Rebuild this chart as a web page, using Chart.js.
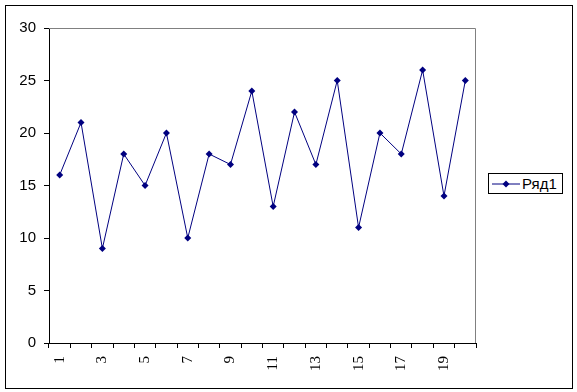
<!DOCTYPE html>
<html lang="ru">
<head>
<meta charset="UTF-8">
<title>Ряд1</title>
<script src="https://cdn.jsdelivr.net/npm/chart.js"></script>
<style>
  body { margin: 0; background: #fff; }
  #wrap { position: relative; width: 577px; height: 392px; }
  #legend {
    position: absolute; left: 488px; top: 173px; width: 73px; height: 19px;
    border: 1px solid #000; background: #fff;
    font: 15px "Liberation Sans", Arial, sans-serif; color: #000;
    display: flex; align-items: center;
  }
  #legend svg { margin-left: 3px; margin-right: 2px; }
</style>
</head>
<body>
<div id="wrap">
  <canvas id="chart" width="577" height="392"></canvas>
  <div id="legend">
    <svg width="28" height="10"><line x1="0" y1="5" x2="28" y2="5" stroke="#000080" stroke-width="1"/><polygon points="14,1.5 17.5,5 14,8.5 10.5,5" fill="#000080"/></svg>
    <span id="legend-label"></span>
  </div>
</div>
<script>
const seriesName = 'Ряд1';
const categories = ['1','2','3','4','5','6','7','8','9','10','11','12','13','14','15','16','17','18','19','20'];
const values = [16, 21, 9, 18, 15, 20, 10, 18, 17, 24, 13, 22, 17, 25, 11, 20, 18, 26, 14, 25];

document.getElementById('legend-label').textContent = seriesName;

// рамка всей диаграммы и области построения
const frames = {
  id: 'frames',
  afterDraw(chart) {
    const ctx = chart.ctx;
    const a = chart.chartArea;
    ctx.save();
    ctx.strokeStyle = '#000';
    ctx.lineWidth = 1;
    ctx.strokeRect(5.5, 5.5, 567, 383);
    ctx.strokeStyle = '#808080';
    ctx.beginPath();
    ctx.moveTo(a.left, a.top + 0.5);
    ctx.lineTo(a.right - 0.5, a.top + 0.5);
    ctx.lineTo(a.right - 0.5, a.bottom);
    ctx.stroke();
    ctx.restore();
  }
};

new Chart(document.getElementById('chart'), {
  type: 'line',
  data: {
    labels: categories,
    datasets: [{
      label: seriesName,
      data: values,
      borderColor: '#000080',
      backgroundColor: '#000080',
      borderWidth: 1,
      pointStyle: 'rectRot',
      pointRadius: 3.5,
      pointBorderWidth: 0,
      tension: 0
    }]
  },
  options: {
    responsive: false,
    animation: false,
    devicePixelRatio: 1,
    layout: { padding: { left: 0, top: 28, right: 101, bottom: 0 } },
    plugins: { legend: { display: false }, tooltip: { enabled: false } },
    scales: {
      x: {
        offset: true,
        afterFit(s) { s.height = 49; },
        grid: { offset: true, drawOnChartArea: false, tickLength: 5, color: '#000' },
        border: { color: '#000' },
        ticks: {
          autoSkip: false,
          maxRotation: 90, minRotation: 90,
          padding: 8,
          color: '#000',
          font: { family: '"Liberation Serif", "Times New Roman", serif', size: 15 },
          callback: (v, i) => i % 2 === 0 ? categories[i] : ''
        }
      },
      y: {
        min: 0, max: 30,
        afterFit(s) { s.width = 49; },
        grid: { drawOnChartArea: false, tickLength: 5, color: '#000' },
        border: { color: '#000' },
        ticks: {
          stepSize: 5,
          padding: 8,
          color: '#000',
          font: { family: '"Liberation Sans", Arial, sans-serif', size: 15 }
        }
      }
    }
  },
  plugins: [frames]
});
</script>
</body>
</html>
